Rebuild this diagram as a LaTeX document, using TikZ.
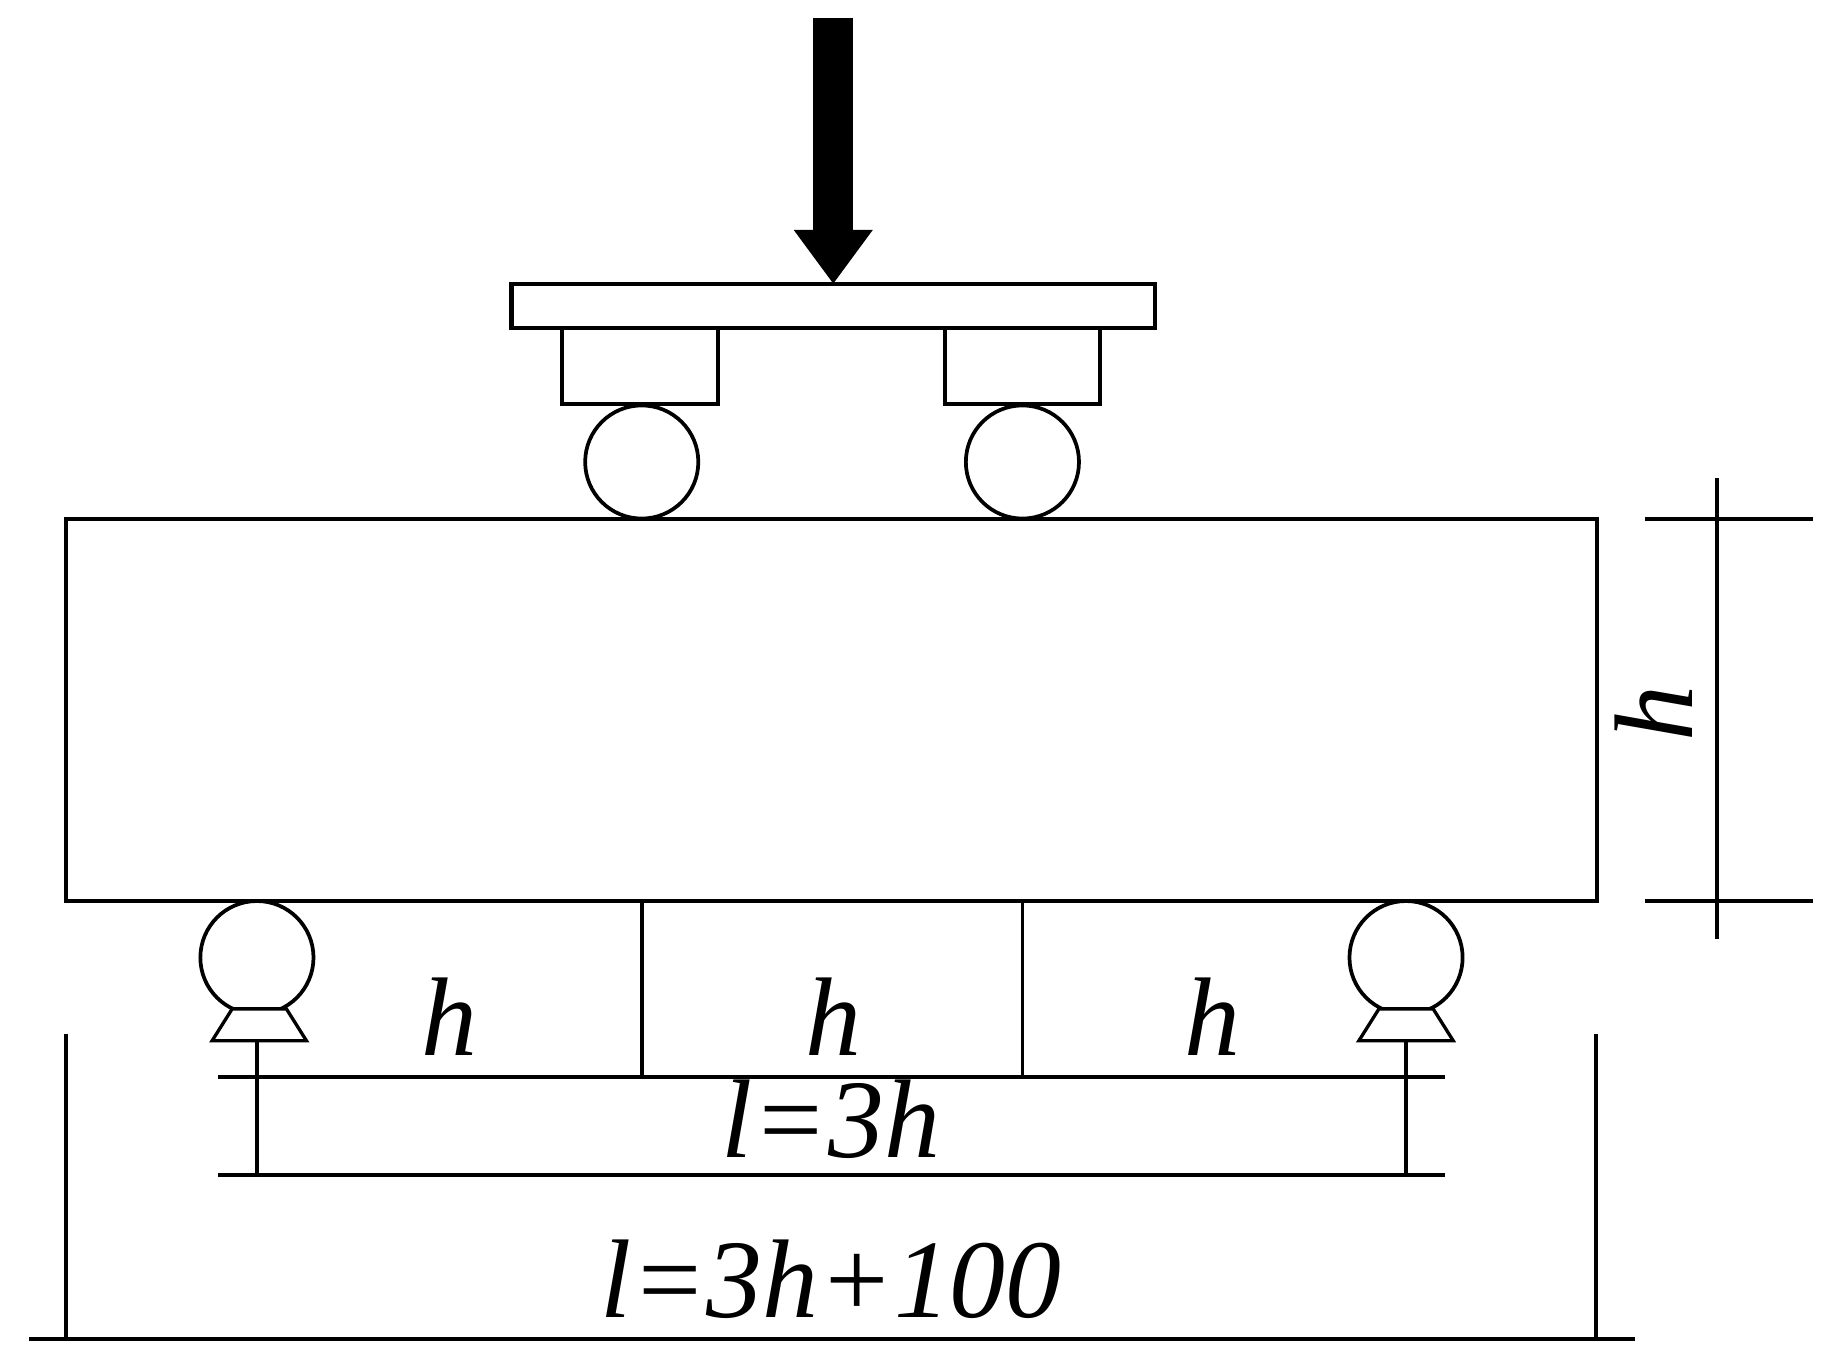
\documentclass[tikz,border=0pt]{standalone}
\usepackage{fontspec}
\setmainfont{Liberation Serif}
\usetikzlibrary{arrows.meta}
\tikzset{
    part/.style={draw,rectangle,line width=1pt,outer sep=0pt,inner sep=0pt},
    roller/.style={draw,circle,fill=white,line width=0.9pt,outer sep=0pt,inner sep=0pt,minimum size=0.96cm},
    seat/.style={draw,fill=white,line width=0.8pt,line join=miter},
    dimline/.style={line width=0.9pt},
    lab/.style={inner sep=0pt,font=\fontsize{27}{27}\selectfont\itshape}
}
\begin{document}
\begin{tikzpicture}
        \useasboundingbox (0,0) rectangle (15.68,-11.574);
        %% Beam
        \node[part,minimum width=12.99cm,minimum height=3.24cm] (beam) at (7.055,-6.025) {};
        %% Loading plate and blocks
        \node[part,minimum width=5.46cm,minimum height=0.37cm] (plate) at (7.07,-2.595) {};
        \node[part,minimum width=1.32cm,minimum height=0.65cm] (blockA) at (5.43,-3.105) {};
        \node[part,minimum width=1.31cm,minimum height=0.65cm] (blockB) at (8.675,-3.105) {};
        %% Rollers
        \node[roller] (rollerA) at (5.445,-3.92) {};
        \node[roller] (rollerB) at (8.675,-3.92) {};
        \node[roller] (rollerC) at (2.18,-8.125) {};
        \node[roller] (rollerD) at (11.93,-8.125) {};
        %% Seats
        \coordinate (seatC) at (2.20,-8.83);
        \coordinate (seatD) at (11.93,-8.83);
        \draw[seat] (seatC) ++ (-0.4,0) -- ++ (0.8,0) -- ++ (-0.17,0.27) -- ++ (-0.46,0) -- cycle;
        \draw[seat] (seatD) ++ (-0.4,0) -- ++ (0.8,0) -- ++ (-0.17,0.27) -- ++ (-0.46,0) -- cycle;
        %% Load
        \coordinate (top) at (7.07,-0.15);
        \draw[line width=0.34cm,-{Triangle[width=0.64cm,length=0.46cm]}] (top) -- (plate.north);
        %% Dimension lines
        \coordinate (dimAL) at (1.85,-9.14);
        \coordinate (dimAR) at (12.26,-9.14);
        \coordinate (dimBL) at (1.85,-9.97);
        \coordinate (dimBR) at (12.26,-9.97);
        \coordinate (baseL) at (0.25,-11.36);
        \coordinate (baseR) at (13.87,-11.36);
        \coordinate (wallL) at (0.56,-8.77);
        \coordinate (wallR) at (13.54,-8.77);
        \coordinate (sideT) at (14.57,-4.06);
        \coordinate (sideB) at (14.57,-7.97);
        \coordinate (markAL) at (13.96,-4.405);
        \coordinate (markAR) at (15.38,-4.405);
        \coordinate (markBL) at (13.96,-7.645);
        \coordinate (markBR) at (15.38,-7.645);
        \draw[dimline] (dimAL) -- (dimAR);
        \draw[dimline] (dimBL) -- (dimBR);
        \draw[dimline] (baseL) -- (baseR);
        \draw[dimline] (wallL) -- (wallL |- baseL);
        \draw[dimline] (wallR) -- (wallR |- baseR);
        \draw[dimline] (sideT) -- (sideB);
        \draw[dimline] (markAL) -- (markAR);
        \draw[dimline] (markBL) -- (markBR);
        \draw[dimline] (rollerA |- beam.south) -- (rollerA |- dimAL);
        \draw[dimline] (rollerB |- beam.south) -- (rollerB |- dimAL);
        \draw[dimline] (seatC -| rollerC) -- (rollerC |- dimBL);
        \draw[dimline] (seatD -| rollerD) -- (rollerD |- dimBL);
        %% Labels
        \node[lab] (spanA) at (3.81,-8.63) {h};
        \node[lab] (spanB) at (7.07,-8.63) {h};
        \node[lab] (spanC) at (10.29,-8.63) {h};
        \node[lab,rotate=90] (depth) at (14.03,-6.05) {h};
        \node[lab] (inner) at (7.05,-9.50) {l=3h};
        \node[lab] (outer) at (7.05,-10.85) {l=3h+100};
    \end{tikzpicture}
\end{document}
